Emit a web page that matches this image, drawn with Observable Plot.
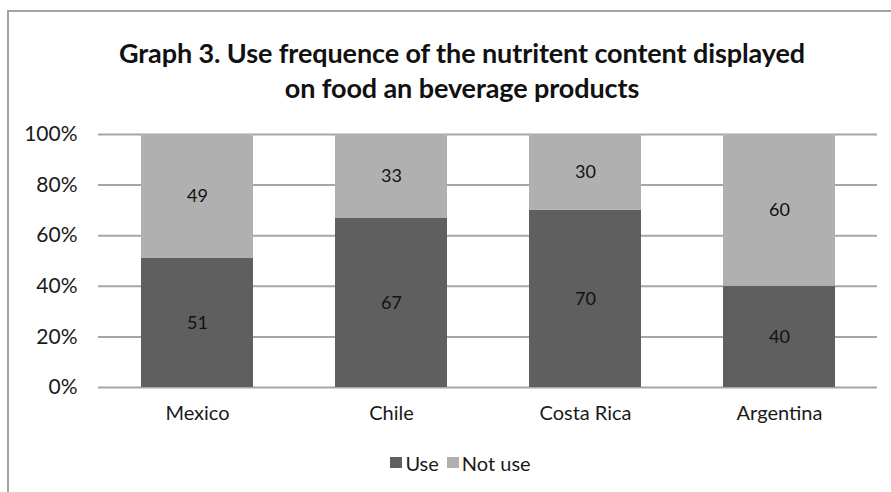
<!DOCTYPE html>
<html>
<head>
<meta charset="utf-8">
<script src="https://cdn.jsdelivr.net/npm/d3@7"></script>
<script src="https://cdn.jsdelivr.net/npm/@observablehq/plot@0.6"></script>
<style>
  html, body { margin: 0; padding: 0; background: #fff; }
  #wrap { position: relative; width: 891px; height: 492px; overflow: hidden; font-family: Lato, "Open Sans", sans-serif; color: #1a1a1a; }
  #frame { position: absolute; left: 7px; top: 10px; width: 960px; height: 560px; border: 2px solid #a3a3a3; box-sizing: border-box; }
  #title { position: absolute; left: 0; top: 35px; width: 924px; text-align: center; font-weight: 700; font-size: 27px; line-height: 35px; color: #111; letter-spacing: -0.1px; }
  #chart { position: absolute; left: 0; top: 110px; }
  #legend { position: absolute; left: 0; top: 449px; width: 921px; text-align: center; font-size: 20px; line-height: 22px; }
  .li { display: inline-flex; align-items: center; margin: 0 4px; }
  .sw { display: inline-block; width: 12px; height: 11px; margin-right: 3px; }
</style>
</head>
<body>
<div id="wrap">
  <div id="frame"></div>
  <div id="title"></div>
  <div id="chart"></div>
  <div id="legend"></div>
</div>
<script>
const titleLines = ["Graph 3. Use frequence of the nutritent content displayed", "on food an beverage products"];
const countries = ["Mexico", "Chile", "Costa Rica", "Argentina"];
const useValues = [51, 67, 70, 40];
const notUseValues = [49, 33, 30, 60];
const seriesNames = ["Use", "Not use"];
const seriesColors = ["#5f5f5f", "#b0b0b0"];
const yTicks = [0, 20, 40, 60, 80, 100];

document.getElementById("title").innerHTML = titleLines.join("<br>");

const data = [];
countries.forEach((c, i) => {
  data.push({country: c, type: seriesNames[0], value: useValues[i]});
  data.push({country: c, type: seriesNames[1], value: notUseValues[i]});
});

const chart = Plot.plot({
  width: 891,
  height: 320,
  marginTop: 24,
  marginBottom: 43,
  marginLeft: 98,
  marginRight: 14,
  style: {fontFamily: "Lato, 'Open Sans', sans-serif", color: "#1a1a1a", background: "transparent"},
  x: {domain: countries, paddingInner: 0.425, paddingOuter: 0.21, label: null},
  y: {domain: [0, 100], label: null},
  color: {domain: seriesNames, range: seriesColors},
  marks: [
    Plot.ruleY(yTicks, {stroke: "#a6a6a6", strokeWidth: 2}),
    Plot.barY(data, Plot.stackY({x: "country", y: "value", fill: "type", order: seriesNames})),
    Plot.text(data, Plot.stackY({x: "country", y: "value", z: "type", order: seriesNames, text: d => String(d.value), fontSize: 18, fill: "#111"})),
    Plot.axisY({ticks: yTicks, tickFormat: d => d + "%", tickSize: 0, tickPadding: 21, fontSize: 21, label: null}),
    Plot.axisX({tickSize: 0, tickPadding: 18, fontSize: 20, label: null})
  ]
});
document.getElementById("chart").appendChild(chart);

const legend = document.getElementById("legend");
seriesNames.forEach((n, i) => {
  const item = document.createElement("span");
  item.className = "li";
  item.innerHTML = `<span class="sw" style="background:${seriesColors[i]}"></span>${n}`;
  legend.appendChild(item);
});
</script>
</body>
</html>
